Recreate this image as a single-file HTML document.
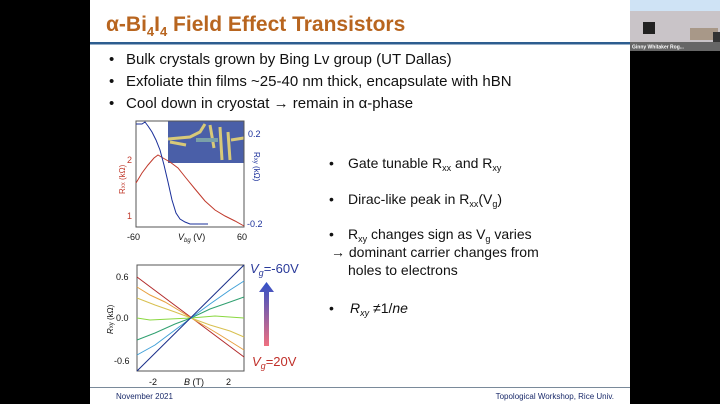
<!DOCTYPE html>
<html><head><meta charset="utf-8"><style>
html,body{margin:0;padding:0;background:#000;}
svg{display:block;font-family:"Liberation Sans",Arial,sans-serif;}
</style></head><body>
<svg width="720" height="404" viewBox="0 0 720 404" xmlns="http://www.w3.org/2000/svg">
<rect x="0" y="0" width="720" height="404" fill="#000"/>
<rect x="90" y="0" width="540" height="404" fill="#fff"/>
<!-- video thumb -->
<rect x="630" y="0" width="90" height="11" fill="#cfe3f5"/>
<rect x="630" y="11" width="90" height="40" fill="#c9c4c8"/>
<rect x="690" y="28" width="28" height="12" fill="#a89888"/>
<rect x="713" y="32" width="7" height="10" fill="#333"/>
<rect x="643" y="22" width="12" height="12" fill="#222"/>
<rect x="630" y="42" width="90" height="9" fill="#666"/>
<text x="632" y="48.5" font-size="5" fill="#fff" font-weight="bold">Ginny Whitaker Rog...</text>
<!-- title -->
<text x="106" y="31" font-size="21" font-weight="bold" fill="#b8651f">α-Bi<tspan font-size="13" dy="5">4</tspan><tspan dy="-5">I</tspan><tspan font-size="13" dy="5">4</tspan><tspan dy="-5"> Field Effect Transistors</tspan></text>
<rect x="90" y="42" width="540" height="2.5" fill="#2d5d8f"/>
<g font-size="15" fill="#111">
<text x="109" y="64">•</text><text x="126" y="64">Bulk crystals grown by Bing Lv group (UT Dallas)</text>
<text x="109" y="86">•</text><text x="126" y="86">Exfoliate thin films ~25-40 nm thick, encapsulate with hBN</text>
<text x="109" y="108">•</text><text x="126" y="108">Cool down in cryostat → remain in α-phase</text>
</g>
<g font-size="14" fill="#111">
<text x="329" y="168">•</text><text x="348" y="168">Gate tunable R<tspan font-size="9" dy="3">xx</tspan><tspan dy="-3"> and R</tspan><tspan font-size="9" dy="3">xy</tspan></text>
<text x="329" y="204">•</text><text x="348" y="204">Dirac-like peak in R<tspan font-size="9" dy="3">xx</tspan><tspan dy="-3">(V</tspan><tspan font-size="9" dy="3">g</tspan><tspan dy="-3">)</tspan></text>
<text x="329" y="239">•</text><text x="348" y="239">R<tspan font-size="9" dy="3">xy</tspan><tspan dy="-3"> changes sign as V</tspan><tspan font-size="9" dy="3">g</tspan><tspan dy="-3"> varies</tspan></text>
<text x="331" y="257">→ dominant carrier changes from</text>
<text x="348" y="275">holes to electrons</text>
<text x="329" y="313">•</text><text x="350" y="313" font-style="italic">R<tspan font-size="9" dy="3">xy</tspan><tspan dy="-3" font-style="normal"> ≠1/</tspan>ne</text>
</g>
<!-- top chart -->
<rect x="168" y="121" width="76" height="42" fill="#4a5fa8"/>
<path d="M168,139 L190,137 L200,132 L205,124 M210,125 L214,148 M220,127 L222,160 M228,132 L230,160 M231,140 L244,138 M170,142 L186,145" stroke="#d8c978" stroke-width="3" fill="none"/>
<rect x="196" y="138" width="22" height="4" fill="#7aa0a8"/>
<rect x="136" y="121" width="108" height="106" fill="none" stroke="#555" stroke-width="1"/>
<path d="M136,183 L142,173 L148,165 L154,158 L158,155 L163,158 L170,162 L178,168 L186,178 L195,189 L205,201 L215,210 L225,216 L235,221 L244,226" stroke="#c0392b" stroke-width="1" fill="none"/>
<path d="M136,124 L142,124 L145,122 L148,126 L152,132 L156,140 L160,150 L164,165 L168,182 L172,200 L176,213 L180,219 L185,222 L190,224 L200,224 L208,224" stroke="#1a2f9a" stroke-width="1" fill="none"/>
<g font-size="9" fill="#111">
<text x="127" y="240">-60</text><text x="237" y="240">60</text>
<text x="178" y="240" font-style="italic">V<tspan font-size="6" dy="2">bg</tspan><tspan dy="-2" font-style="normal"> (V)</tspan></text>
</g>
<g font-size="9" fill="#c0392b"><text x="127" y="163">2</text><text x="127" y="219">1</text>
<text transform="translate(125,194) rotate(-90)" font-size="8">R<tspan font-size="6">xx</tspan> (kΩ)</text></g>
<g font-size="9" fill="#1a2f9a"><text x="248" y="137">0.2</text><text x="247" y="227">-0.2</text>
<text transform="translate(254,152) rotate(90)" font-size="8">R<tspan font-size="6">xy</tspan> (kΩ)</text></g>
<!-- bottom chart -->
<rect x="137" y="265" width="107" height="106" fill="none" stroke="#555" stroke-width="1"/>
<g fill="none" stroke-width="1">
<path d="M137,277 L244,357" stroke="#b22a2a"/>
<path d="M137,287 L150,295 L165,302 L180,311 L191,318 L205,326 L220,335 L244,350" stroke="#e8a040"/>
<path d="M137,298 L155,305 L175,312 L191,318 L210,325 L230,331 L244,337" stroke="#d8c050"/>
<path d="M137,318 L150,320 L170,319 L191,318 L215,316 L244,318" stroke="#8ad840"/>
<path d="M137,340 L155,333 L175,324 L191,318 L210,309 L230,302 L244,297" stroke="#30a070"/>
<path d="M137,355 L155,345 L175,330 L191,318 L210,304 L230,290 L244,281" stroke="#40a0d8"/>
<path d="M137,371 L244,265" stroke="#1a2f8a"/>
</g>
<g font-size="9" fill="#111">
<text x="116" y="280">0.6</text><text x="116" y="321">0.0</text><text x="114" y="364">-0.6</text>
<text x="149" y="385">-2</text><text x="226" y="385">2</text>
<text x="184" y="385"><tspan font-style="italic">B</tspan> (T)</text>
<text transform="translate(113,334) rotate(-90)" font-size="8"><tspan font-style="italic">R</tspan><tspan font-size="6">xy</tspan> (kΩ)</text>
</g>
<defs><linearGradient id="ag" x1="0" y1="0" x2="0" y2="1"><stop offset="0" stop-color="#3050c8"/><stop offset="1" stop-color="#f07080"/></linearGradient></defs>
<path d="M264,346 L264,292 L259,292 L266.5,282 L274,292 L269,292 L269,346 Z" fill="url(#ag)"/>
<text x="250" y="273" font-size="13" fill="#2a3a9a"><tspan font-style="italic">V</tspan><tspan font-size="9" dy="3" font-style="italic">g</tspan><tspan dy="-3">=-60V</tspan></text>
<text x="252" y="366" font-size="13" fill="#c0302a"><tspan font-style="italic">V</tspan><tspan font-size="9" dy="3" font-style="italic">g</tspan><tspan dy="-3">=20V</tspan></text>
<!-- footer -->
<rect x="90" y="387" width="540" height="1" fill="#7a8a9a"/>
<text x="116" y="399" font-size="8" fill="#1a2a6a">November 2021</text>
<text x="614" y="399" font-size="8" fill="#1a2a6a" text-anchor="end">Topological Workshop, Rice Univ.</text>
</svg>
</body></html>
